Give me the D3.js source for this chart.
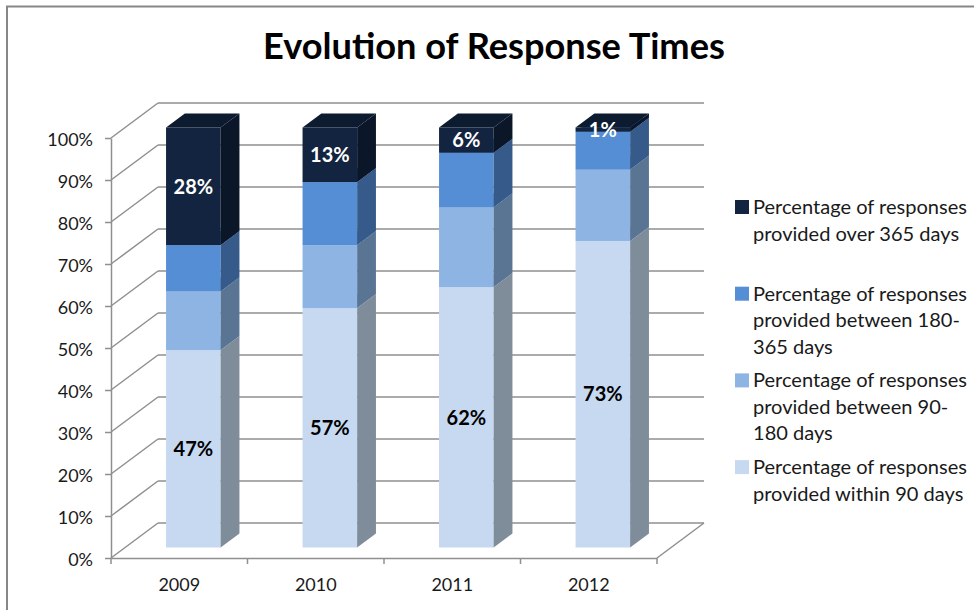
<!DOCTYPE html>
<html>
<head>
<meta charset="utf-8">
<script src="https://cdn.jsdelivr.net/npm/d3@7"></script>
<style>
  html, body { margin: 0; padding: 0; background: #ffffff; }
  svg { display: block; font-family: Lato, "Open Sans", sans-serif; }
</style>
</head>
<body>
<svg id="chart" width="974" height="610"></svg>
<script>
// ---- Data ----
const years = ["2009", "2010", "2011", "2012"];
const within90 = [47, 57, 62, 73];
const between90and180 = [14, 15, 19, 17];
const between180and365 = [11, 15, 13, 9];
const over365 = [28, 13, 6, 1];
const yTickValues = [0, 10, 20, 30, 40, 50, 60, 70, 80, 90, 100];
const yTickLabels = ["0%", "10%", "20%", "30%", "40%", "50%", "60%", "70%", "80%", "90%", "100%"];
const chartTitle = "Evolution of Response Times";

const seriesNames = ["within90", "between90and180", "between180and365", "over365"];
const seriesValues = [within90, between90and180, between180and365, over365];
const seriesShowLabel = [true, false, false, true];
const legendLines = [
  ["Percentage of responses", "provided within 90 days"],
  ["Percentage of responses", "provided between 90-", "180 days"],
  ["Percentage of responses", "provided between 180-", "365 days"],
  ["Percentage of responses", "provided over 365 days"]
];

// ---- Styles ----
const frontColors = ["#c6d9f1", "#8db4e2", "#558ed5", "#12243f"];
const sideColors  = ["#7f8c99", "#5a7594", "#365b8a", "#0b1629"];
const topColors   = ["#b3c6dd", "#7fa2cc", "#4d81c0", "#0d1b31"];
const labelColors = ["#000000", "#000000", "#000000", "#ffffff"];
const gridColor = "#8f8f8f";

const svg = d3.select("#chart");
svg.append("rect").attr("width", 974).attr("height", 610).attr("fill", "#fff");
svg.append("rect").attr("x", 7).attr("y", 6.5).attr("width", 1000).attr("height", 700)
  .attr("fill", "none").attr("stroke", "#878787").attr("stroke-width", 2);

// ---- 3D projection helpers ----
const DX = 47, DY = -35;            // depth vector (floor depth)
const z0 = 0.3, z1 = 0.7;           // bar occupies middle of the depth
const xLeft = 111, xRight = 657;
const y = d3.scaleLinear().domain([0, 100]).range([558, 138]);
const x = d3.scaleBand().domain(years).range([xLeft, xRight]).paddingInner(0.6).paddingOuter(0.3);
const bw = x.bandwidth();
const P = (xs, v, z) => [xs + z * DX, y(v) + z * DY];
const pts = arr => arr.map(p => p.join(",")).join(" ");

// ---- Walls / gridlines ----
const grid = svg.append("g").attr("stroke", gridColor).attr("stroke-width", 1.5).attr("fill", "none");
yTickValues.forEach(v => {
  const a = P(xLeft, v, 1), b = P(xRight, v, 1), c = P(xLeft, v, 0);
  grid.append("line").attr("x1", a[0]).attr("y1", a[1]).attr("x2", b[0]).attr("y2", b[1]);
  grid.append("line").attr("x1", c[0]).attr("y1", c[1]).attr("x2", a[0]).attr("y2", a[1]);
});
// floor right edge
{
  const a = P(xRight, 0, 0), b = P(xRight, 0, 1);
  grid.append("line").attr("x1", a[0]).attr("y1", a[1]).attr("x2", b[0]).attr("y2", b[1]);
}

// ---- Axes (front) ----
const yAxis = d3.axisLeft(y).tickValues(yTickValues).tickSize(6)
  .tickFormat((d, i) => yTickLabels[i]).tickSizeOuter(0);
const gy = svg.append("g").attr("transform", `translate(${xLeft},0)`).call(yAxis);
gy.select(".domain").attr("stroke", gridColor).attr("stroke-width", 1.5);
gy.selectAll(".tick line").attr("stroke", gridColor).attr("stroke-width", 1.5);
gy.selectAll(".tick text").attr("x", -18).attr("dy", "0.4em")
  .attr("font-size", 18).attr("fill", "#1a1a1a").attr("font-family", "Lato, sans-serif");

const xAxis = d3.axisBottom(x).tickSize(0).tickSizeOuter(0);
const gx = svg.append("g").attr("transform", `translate(0,${y(0)})`).call(xAxis);
gx.select(".domain").attr("stroke", gridColor).attr("stroke-width", 1.5);
gx.selectAll(".tick text").attr("y", 28).attr("dy", "0.3em")
  .attr("font-size", 18).attr("fill", "#1a1a1a").attr("font-family", "Lato, sans-serif");
// category separator ticks
const step = x.step();
const sepX = d3.range(years.length + 1).map(i => xLeft + i * step);
gx.selectAll("line.sep").data(sepX).join("line").attr("class", "sep")
  .attr("x1", d => d).attr("x2", d => d).attr("y1", 0).attr("y2", 6)
  .attr("stroke", gridColor).attr("stroke-width", 1.5);

// ---- Bars ----
const barsG = svg.append("g");
years.forEach((yr, i) => {
  const bx = x(yr);
  let cum = 0;
  seriesValues.forEach((vals, s) => {
    const v0 = cum, v1 = cum + vals[i];
    cum = v1;
    const f0 = P(bx, v1, z0), f1 = P(bx + bw, v0, z0);
    barsG.append("rect").attr("x", f0[0]).attr("y", f0[1])
      .attr("width", f1[0] - f0[0]).attr("height", f1[1] - f0[1]).attr("fill", frontColors[s]);
    barsG.append("polygon").attr("points", pts([P(bx + bw, v0, z0), P(bx + bw, v0, z1), P(bx + bw, v1, z1), P(bx + bw, v1, z0)]))
      .attr("fill", sideColors[s]);
    barsG.append("polygon").attr("points", pts([P(bx, v1, z0), P(bx + bw, v1, z0), P(bx + bw, v1, z1), P(bx, v1, z1)]))
      .attr("fill", topColors[s]);
  });
});

// ---- Data labels ----
const labelsG = svg.append("g").attr("font-weight", "bold").attr("font-size", 20).attr("text-anchor", "middle");
years.forEach((yr, i) => {
  let cum = 0;
  seriesValues.forEach((vals, s) => {
    const v0 = cum, v1 = cum + vals[i];
    cum = v1;
    if (!seriesShowLabel[s]) return;
    const c = P(x(yr) + bw / 2, (v0 + v1) / 2, z0);
    labelsG.append("text").attr("x", c[0]).attr("y", c[1]).attr("dy", "0.36em")
      .attr("fill", labelColors[s]).text(vals[i] + "%");
  });
});

// ---- Title ----
const title = svg.append("text").attr("x", 494).attr("y", 59).attr("text-anchor", "middle")
  .attr("font-weight", "bold").attr("font-size", 30).attr("fill", "#000").text(chartTitle);
{
  const w = title.node().getComputedTextLength();
  title.attr("font-size", 30 * 462 / w);
}

// ---- Legend (top entry = last series) ----
const legend = svg.append("g");
const entryTop = 207, entryStep = 86.7, lineH = 26.5;
let legendFont = 18;
const order = [3, 2, 1, 0];
order.forEach((s, k) => {
  const cy = entryTop + k * entryStep;
  legend.append("rect").attr("x", 735).attr("y", cy - 7).attr("width", 14).attr("height", 14)
    .attr("fill", frontColors[s]);
  legendLines[s].forEach((ln, j) => {
    legend.append("text").attr("class", "lg").attr("x", 753).attr("y", cy + j * lineH).attr("dy", "0.35em")
      .attr("font-size", legendFont).attr("fill", "#1a1a1a").text(ln);
  });
});
{
  const first = legend.select("text.lg").node();
  const w = first.getComputedTextLength();
  legend.selectAll("text.lg").attr("font-size", legendFont * 214 / w);
}
</script>
</body>
</html>
